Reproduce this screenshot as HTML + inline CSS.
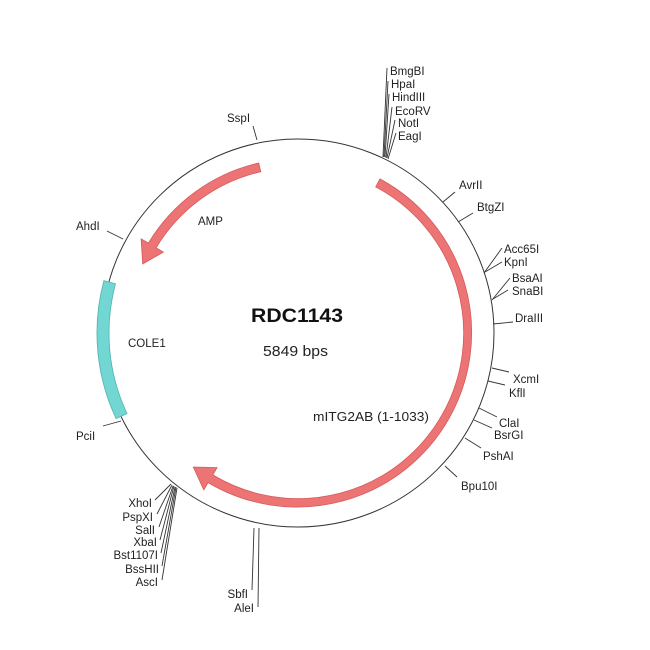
<!DOCTYPE html>
<html><head><meta charset="utf-8"><style>
html,body{margin:0;padding:0;background:#fff;}
svg{display:block;}
text{font-family:"Liberation Sans",sans-serif;fill:#222;font-size:11.5px;}
</style></head><body>
<svg width="650" height="650" viewBox="0 0 650 650" xmlns="http://www.w3.org/2000/svg">
<rect width="650" height="650" fill="#fff"/>
<ellipse cx="298" cy="333" rx="196" ry="194" fill="none" stroke="#333" stroke-width="1"/>
<path d="M 379.9 178.9 A 174.5 174.5 0 1 1 208.1 482.6 L 203.8 489.9 L 193.3 467.0 L 217.1 467.6 L 212.8 474.9 A 165.5 165.5 0 1 0 375.7 186.9 Z" fill="#ec7474" stroke="#d65a5a" stroke-width="0.8"/>
<path d="M 258.7 163.0 A 174.5 174.5 0 0 0 148.4 243.1 L 141.1 238.8 L 142.7 263.9 L 163.4 252.1 L 156.1 247.8 A 165.5 165.5 0 0 1 260.8 171.7 Z" fill="#ec7474" stroke="#d65a5a" stroke-width="0.8"/>
<path d="M 103.9 280.6 A 201 201 0 0 0 116.1 418.6 L 127.0 413.5 A 189 189 0 0 1 115.5 283.8 Z" fill="#72d6d2" stroke="#4fb3b0" stroke-width="0.8"/>
<g stroke="#333" stroke-width="0.9" fill="none">
<line x1="257" y1="140" x2="253" y2="126"/>
<line x1="383" y1="157" x2="387" y2="68"/>
<line x1="384" y1="157" x2="388" y2="81"/>
<line x1="385" y1="157" x2="389" y2="94"/>
<line x1="386" y1="158" x2="392" y2="107"/>
<line x1="387" y1="158" x2="395" y2="120"/>
<line x1="388" y1="159" x2="396" y2="133"/>
<line x1="443" y1="202" x2="455" y2="192"/>
<line x1="458" y1="222" x2="473" y2="213"/>
<line x1="484" y1="273" x2="502" y2="248"/>
<line x1="485" y1="272" x2="502" y2="262"/>
<line x1="492" y1="300" x2="510" y2="278"/>
<line x1="493" y1="299" x2="508" y2="290"/>
<line x1="493" y1="324" x2="513" y2="322"/>
<line x1="492" y1="368" x2="509" y2="372"/>
<line x1="488" y1="381" x2="505" y2="385"/>
<line x1="479" y1="408" x2="497" y2="417"/>
<line x1="474" y1="420" x2="492" y2="428"/>
<line x1="465" y1="438" x2="481" y2="448"/>
<line x1="445" y1="466" x2="457" y2="477"/>
<line x1="107" y1="231" x2="123" y2="239"/>
<line x1="103" y1="426" x2="121" y2="421"/>
<line x1="254" y1="528" x2="252" y2="590"/>
<line x1="259" y1="528" x2="258" y2="607"/>
<line x1="171" y1="484" x2="155" y2="500"/>
<line x1="172" y1="485" x2="157" y2="514"/>
<line x1="173" y1="486" x2="159" y2="527"/>
<line x1="174" y1="486" x2="160" y2="540"/>
<line x1="175" y1="487" x2="161" y2="553"/>
<line x1="176" y1="487" x2="162" y2="566"/>
<line x1="177" y1="488" x2="162" y2="580"/>
</g>
<text x="227" y="122">SspI</text>
<text x="390" y="75">BmgBI</text>
<text x="391" y="88">HpaI</text>
<text x="392" y="101">HindIII</text>
<text x="395" y="115">EcoRV</text>
<text x="398" y="127">NotI</text>
<text x="398" y="140">EagI</text>
<text x="459" y="189">AvrII</text>
<text x="477" y="211">BtgZI</text>
<text x="504" y="253">Acc65I</text>
<text x="504" y="266">KpnI</text>
<text x="512" y="282">BsaAI</text>
<text x="512" y="295">SnaBI</text>
<text x="515" y="322">DraIII</text>
<text x="513" y="383">XcmI</text>
<text x="509" y="397">KflI</text>
<text x="499" y="427">ClaI</text>
<text x="494" y="439">BsrGI</text>
<text x="483" y="460">PshAI</text>
<text x="461" y="490">Bpu10I</text>
<text x="76" y="230">AhdI</text>
<text x="76" y="440">PciI</text>
<text x="248" y="598" text-anchor="end">SbfI</text>
<text x="254" y="612" text-anchor="end">AleI</text>
<g text-anchor="end">
<text x="152" y="507">XhoI</text>
<text x="153" y="521">PspXI</text>
<text x="155" y="534">SalI</text>
<text x="157" y="546">XbaI</text>
<text x="158" y="559">Bst1107I</text>
<text x="159" y="573">BssHII</text>
<text x="158" y="586">AscI</text>
</g>
<text x="198" y="225">AMP</text>
<text x="128" y="347">COLE1</text>
<text x="313" y="421" style="font-size:12.5px" textLength="116" lengthAdjust="spacingAndGlyphs">mITG2AB (1-1033)</text>
<text x="251" y="322" style="font-size:19px;font-weight:bold;fill:#111" textLength="92" lengthAdjust="spacingAndGlyphs">RDC1143</text>
<text x="263" y="356" style="font-size:14.5px" textLength="65" lengthAdjust="spacingAndGlyphs">5849 bps</text>
</svg>
</body></html>
